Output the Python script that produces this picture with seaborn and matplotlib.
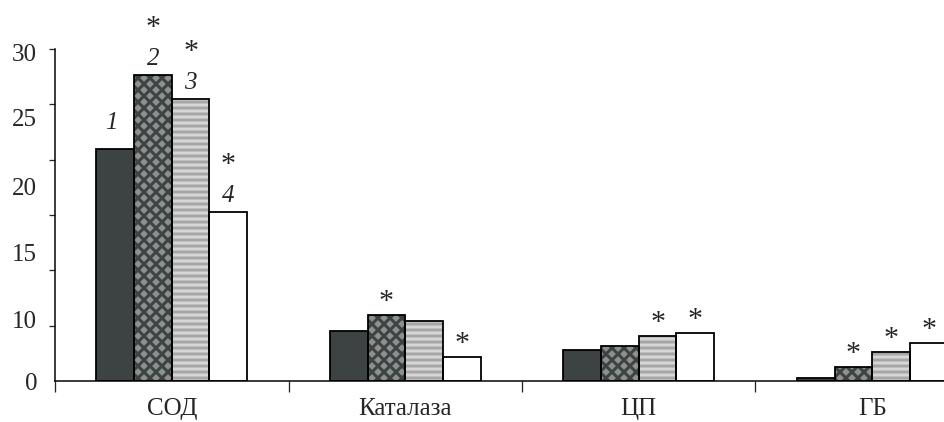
import pandas as pd
import seaborn as sns
import matplotlib.pyplot as plt

categories = ["СОД", "Каталаза", "ЦП", "ГБ"]
groups = ["1", "2", "3", "4"]
values_1 = [21.0, 4.55, 2.8, 0.27]
values_2 = [27.65, 6.0, 3.2, 1.3]
values_3 = [25.5, 5.4, 4.05, 2.6]
values_4 = [15.25, 2.15, 4.35, 3.45]
stars_1 = [0, 0, 0, 0]
stars_2 = [1, 1, 0, 1]
stars_3 = [1, 0, 1, 1]
stars_4 = [1, 1, 1, 1]
ytick_marks = [0, 5, 10, 15, 20, 25, 30]
ytick_labels = ["0", "10", "15", "20", "25", "30"]
ytick_label_pos = [0, 5.6, 11.65, 17.6, 23.8, 29.65]

sns.set_style("ticks")
plt.rcParams["font.family"] = ["Liberation Serif", "DejaVu Serif"]
plt.rcParams["hatch.linewidth"] = 3.0

rows = []
for g, vals, st in zip(groups, [values_1, values_2, values_3, values_4],
                       [stars_1, stars_2, stars_3, stars_4]):
    for c, v, s in zip(categories, vals, st):
        rows.append({"category": c, "group": g, "value": v, "star": s})
df = pd.DataFrame(rows)

DPI = 72
fig = plt.figure(figsize=(944 / DPI, 422 / DPI), dpi=DPI)
ax = fig.add_axes([55 / 944, 1 - 381 / 422, 934 / 944, 332 / 422])

faces = {"1": "#3c4443", "2": "#8e9090", "3": "#a6a6a6", "4": "#ffffff"}
sns.barplot(data=df, x="category", y="value", hue="group", order=categories,
            hue_order=groups, palette=faces, width=0.646, linewidth=0,
            errorbar=None, legend=False, ax=ax)

# patterns: hatch colour follows edge colour, so outline is drawn separately
for bar in ax.containers[1]:
    bar.set_hatch("xx")
    bar.set_edgecolor("#3c4443")
for bar in ax.containers[2]:
    bar.set_hatch("--")
    bar.set_edgecolor("#d6d6d6")

sns.barplot(data=df, x="category", y="value", hue="group", order=categories,
            hue_order=groups, palette={g: "black" for g in groups},
            width=0.646, fill=False, linewidth=1.8, errorbar=None,
            legend=False, ax=ax)
for cont in ax.containers[4:]:
    for bar in cont:
        bar.set_edgecolor("black")

# group numbers and significance stars
for gi, cont in enumerate(ax.containers[:4]):
    for ci, bar in enumerate(cont):
        x = bar.get_x() + bar.get_width() / 2
        top = bar.get_height()
        sub = df[(df.group == groups[gi]) & (df.category == categories[ci])]
        star = int(sub.star.iloc[0])
        if ci == 0:
            lift = 20 if gi == 0 else 10
            ax.annotate(groups[gi], (x, top), xytext=(-4 if gi == 0 else 0, lift),
                        textcoords="offset points", ha="center", va="baseline",
                        fontsize=25, style="italic")
            if star:
                ax.annotate("*", (x, top), xytext=(0, lift + 30),
                            textcoords="offset points", ha="center",
                            va="baseline", fontsize=30)
        elif star:
            ax.annotate("*", (x, top), xytext=(0, 6),
                        textcoords="offset points", ha="center",
                        va="baseline", fontsize=30)

ax.set_xlim(-0.5, 3.5)
ax.set_ylim(0, 30)
ax.set_xticks([0, 1, 2, 3])
ax.set_xticklabels(categories)
ax.set_xticks([-0.5, 0.5, 1.5, 2.5, 3.5], minor=True)
ax.set_yticks(ytick_label_pos)
ax.set_yticklabels(ytick_labels)
ax.set_yticks(ytick_marks, minor=True)
ax.tick_params(axis="x", which="major", length=0, pad=17, labelsize=25)
ax.tick_params(axis="x", which="minor", length=11, width=1.3, direction="out")
ax.tick_params(axis="y", which="major", length=0, pad=18, labelsize=25)
ax.tick_params(axis="y", which="minor", length=6, width=1.3, direction="out")
ax.set_xlabel("")
ax.set_ylabel("")
sns.despine(ax=ax)
for sp in ["left", "bottom"]:
    ax.spines[sp].set_linewidth(1.5)
    ax.spines[sp].set_color("black")

fig.savefig("out.png", dpi=DPI)
